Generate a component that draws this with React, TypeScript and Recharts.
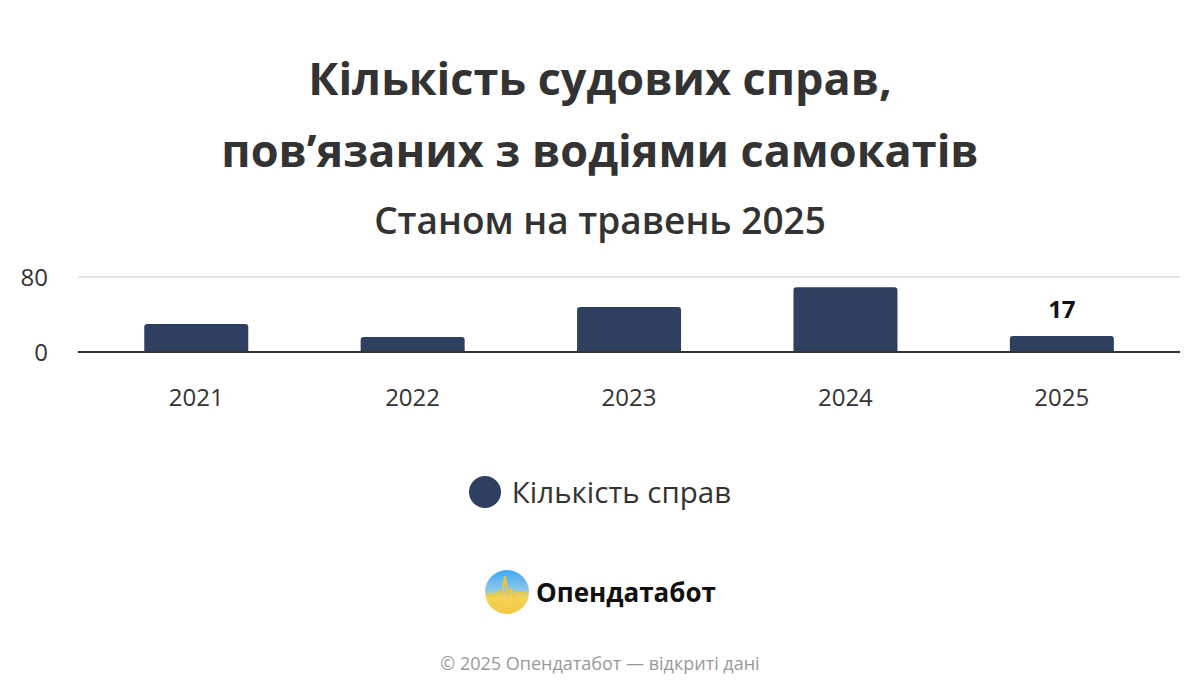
import React from "react";
import {
  BarChart,
  Bar,
  XAxis,
  YAxis,
  CartesianGrid,
  LabelList,
} from "recharts";

const years = ["2021", "2022", "2023", "2024", "2025"];
const cases = [30, 16, 48, 69, 17];
const shownLabels = [null, null, null, null, 17];
const yTicks = [0, 80];

const data = years.map((year, i) => ({
  year,
  cases: cases[i],
  label: shownLabels[i],
}));

const BAR_COLOR = "#2e3f5f";
const FONT = "'Open Sans', 'Noto Sans', sans-serif";

function Logo() {
  return (
    <svg width={46} height={46} viewBox="0 0 46 46">
      <defs>
        <linearGradient id="logoGrad" x1="0" y1="0" x2="0" y2="1">
          <stop offset="0%" stopColor="#3fa9f5" />
          <stop offset="45%" stopColor="#8cc6e8" />
          <stop offset="60%" stopColor="#f3d35a" />
          <stop offset="100%" stopColor="#f5c842" />
        </linearGradient>
      </defs>
      <circle cx={23} cy={23} r={22} fill="url(#logoGrad)" />
      <polyline
        points="4,27 12,27 15,22 18,25 21,8 24,26 27,20 30,29 33,24 42,24"
        fill="none"
        stroke="#f0c63a"
        strokeWidth={2}
        strokeLinejoin="round"
      />
    </svg>
  );
}

export default function App() {
  return (
    <div
      style={{
        position: "absolute",
        left: 0,
        top: 0,
        width: 1200,
        height: 700,
        background: "#ffffff",
        fontFamily: FONT,
        color: "#333333",
      }}
    >
      <div
        style={{
          position: "absolute",
          top: 42,
          width: "100%",
          textAlign: "center",
          fontSize: 45,
          fontWeight: 700,
          lineHeight: "72px",
          color: "#333333",
        }}
      >
        Кількість судових справ,
        <br />
        пов’язаних з водіями самокатів
      </div>
      <div
        style={{
          position: "absolute",
          top: 194,
          width: "100%",
          textAlign: "center",
          fontSize: 37,
          fontWeight: 600,
          color: "#333333",
        }}
      >
        Станом на травень 2025
      </div>

      <div style={{ position: "absolute", left: 0, top: 260 }}>
        <BarChart
          width={1200}
          height={170}
          data={data}
          margin={{ top: 17, right: 20, left: 18, bottom: 0 }}
          barCategoryGap="26%"
        >
          <CartesianGrid vertical={false} stroke="#e3e3e3" strokeWidth={2} />
          <XAxis
            dataKey="year"
            padding={{ left: 10, right: 10 }}
            axisLine={{ stroke: "#333333", strokeWidth: 2 }}
            tickLine={false}
            tick={{ fill: "#333333", fontSize: 24, fontFamily: FONT }}
            tickMargin={31}
            height={78}
          />
          <YAxis
            domain={[0, 80]}
            ticks={yTicks}
            axisLine={false}
            tickLine={false}
            width={60}
            tick={{ fill: "#333333", fontSize: 24, fontFamily: FONT }}
            tickMargin={24}
          />
          <Bar
            dataKey="cases"
            fill={BAR_COLOR}
            radius={[3, 3, 0, 0]}
            isAnimationActive={false}
          >
            <LabelList
              dataKey="label"
              position="top"
              offset={18}
              fill="#111111"
              fontSize={24}
              fontWeight={700}
              fontFamily={FONT}
            />
          </Bar>
        </BarChart>
      </div>

      <div
        style={{
          position: "absolute",
          top: 471,
          width: "100%",
          display: "flex",
          justifyContent: "center",
          alignItems: "center",
          gap: 11,
          fontSize: 29.5,
          color: "#333333",
        }}
      >
        <span
          style={{
            display: "inline-block",
            width: 32,
            height: 32,
            borderRadius: "50%",
            background: BAR_COLOR,
          }}
        />
        <span>Кількість справ</span>
      </div>

      <div
        style={{
          position: "absolute",
          top: 569,
          width: "100%",
          display: "flex",
          justifyContent: "center",
          alignItems: "center",
          gap: 6,
          fontSize: 26,
          fontWeight: 700,
          color: "#111111",
        }}
      >
        <Logo />
        <span>Опендатабот</span>
      </div>

      <div
        style={{
          position: "absolute",
          top: 651,
          width: "100%",
          textAlign: "center",
          fontSize: 18,
          color: "#999999",
        }}
      >
        © 2025 Опендатабот — відкриті дані
      </div>
    </div>
  );
}
